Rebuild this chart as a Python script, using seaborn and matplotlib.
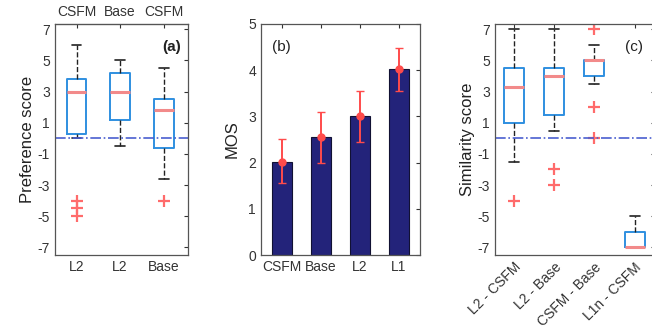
import numpy as np
import pandas as pd
import matplotlib
matplotlib.use("Agg")
import matplotlib.pyplot as plt
import seaborn as sns

# (a) preference scores, summary of each box
pref_bottom = ['L2', 'L2', 'Base']
pref_top = ['CSFM', 'Base', 'CSFM']
pref_q1 = [0.3, 1.2, -0.6]
pref_med = [3.0, 3.0, 1.8]
pref_q3 = [3.8, 4.2, 2.5]
pref_lo = [0.0, -0.5, -2.6]
pref_hi = [6.0, 5.0, 4.5]
pref_out = [[-4.0, -4.5, -5.0], [], [-4.0]]

# (b) MOS with error range
mos_labels = ['CSFM', 'Base', 'L2', 'L1']
mos_mean = [2.02, 2.55, 3.0, 4.02]
mos_low = [1.55, 2.0, 2.45, 3.55]
mos_high = [2.5, 3.1, 3.55, 4.48]

# (c) similarity scores
sim_labels = ['L2 - CSFM', 'L2 - Base', 'CSFM - Base', 'L1n - CSFM']
sim_q1 = [1.0, 1.5, 4.0, -7.0]
sim_med = [3.3, 4.0, 5.0, -7.0]
sim_q3 = [4.5, 4.5, 5.0, -6.0]
sim_lo = [-1.5, 0.5, 3.5, -7.0]
sim_hi = [7.0, 7.0, 6.0, -5.0]
sim_out = [[-4.0], [-2.0, -3.0], [7.0, 2.0, 0.0], []]

sns.set_style("white")
plt.rcParams['font.family'] = ['Liberation Sans', 'DejaVu Sans']
plt.rcParams['axes.unicode_minus'] = False

box_blue = '#2f8fe0'
med_red = '#f28a8a'
flier_red = '#ff6b6b'
bar_navy = '#23237a'
ref_blue = '#4a5fd0'
tick_col = '#333333'


def make_stats(q1, med, q3, lo, hi, out):
    return [dict(q1=a, med=m, q3=b, whislo=l, whishi=h, fliers=o)
            for a, m, b, l, h, o in zip(q1, med, q3, lo, hi, out)]


def draw_boxes(ax, stats, width):
    ax.bxp(stats, positions=np.arange(1, len(stats) + 1), widths=width,
           showfliers=True, patch_artist=False,
           boxprops=dict(color=box_blue, linewidth=1.4),
           medianprops=dict(color=med_red, linewidth=2.2),
           whiskerprops=dict(color='#222222', linestyle='--', linewidth=1.0),
           capprops=dict(color='#222222', linewidth=1.2),
           capwidths=width * 0.5,
           flierprops=dict(marker='+', markeredgecolor=flier_red,
                           markersize=8, markeredgewidth=1.6))


def style_axes(ax):
    ax.tick_params(direction='in', length=3, top=True, right=True,
                   labelsize=10, colors=tick_col)
    for s in ax.spines.values():
        s.set_color('#555555')
        s.set_linewidth(0.9)


fig = plt.figure(figsize=(6.52, 3.27), dpi=100)
fig.patch.set_facecolor('white')

# ---- panel (a)
ax_a = fig.add_axes([0.084, 0.22, 0.204, 0.707])
draw_boxes(ax_a, make_stats(pref_q1, pref_med, pref_q3, pref_lo, pref_hi, pref_out), 0.45)
ax_a.axhline(0, color=ref_blue, linestyle='-.', linewidth=1.2)
ax_a.set_xlim(0.5, 3.55)
ax_a.set_ylim(-7.5, 7.35)
ax_a.set_yticks(np.arange(-7, 8, 2))
ax_a.set_xticks([1, 2, 3])
ax_a.set_xticklabels(pref_bottom)
style_axes(ax_a)
ax_a.tick_params(top=False)
sec = ax_a.secondary_xaxis('top')
sec.set_xticks([1, 2, 3])
sec.set_xticklabels(pref_top)
sec.tick_params(direction='in', length=3, labelsize=10, colors=tick_col)
ax_a.set_ylabel('Preference score', fontsize=12, labelpad=2, color='#222222')
ax_a.text(0.95, 0.93, '(a)', transform=ax_a.transAxes, ha='right', va='top',
          fontsize=11, fontweight='bold', color='#222222')

# ---- panel (b)
ax_b = fig.add_axes([0.400, 0.22, 0.244, 0.707])
df_b = pd.DataFrame({'cond': mos_labels, 'mos': mos_mean})
sns.barplot(data=df_b, x='cond', y='mos', color=bar_navy, saturation=1,
            width=0.5, edgecolor='#111133', linewidth=0.8, errorbar=None, ax=ax_b)
xpos = np.arange(len(mos_labels))
yerr = [np.array(mos_mean) - np.array(mos_low), np.array(mos_high) - np.array(mos_mean)]
ax_b.errorbar(xpos, mos_mean, yerr=yerr, fmt='o', color='#ff4b4b', ecolor='#ff4b4b',
              elinewidth=1.4, capsize=3, markersize=5, zorder=5)
ax_b.set_xlim(-0.54, 3.54)
ax_b.set_ylim(0, 5)
ax_b.set_xlabel('')
ax_b.set_ylabel('MOS', fontsize=12, labelpad=6, color='#222222')
style_axes(ax_b)
ax_b.text(0.07, 0.93, '(b)', transform=ax_b.transAxes, ha='left', va='top',
          fontsize=11, color='#222222')

# ---- panel (c)
ax_c = fig.add_axes([0.759, 0.22, 0.245, 0.707])
draw_boxes(ax_c, make_stats(sim_q1, sim_med, sim_q3, sim_lo, sim_hi, sim_out), 0.5)
ax_c.axhline(0, color=ref_blue, linestyle='-.', linewidth=1.2)
ax_c.set_xlim(0.52, 4.5)
ax_c.set_ylim(-7.5, 7.35)
ax_c.set_yticks(np.arange(-7, 8, 2))
ax_c.set_xticks([1, 2, 3, 4])
ax_c.set_xticklabels(sim_labels, rotation=45, ha='right', rotation_mode='anchor',
                     fontsize=9.5)
style_axes(ax_c)
ax_c.set_ylabel('Similarity score', fontsize=12, labelpad=2, color='#222222')
ax_c.text(0.93, 0.93, '(c)', transform=ax_c.transAxes, ha='right', va='top',
          fontsize=11, color='#222222')

plt.savefig('out.png', dpi=100)
